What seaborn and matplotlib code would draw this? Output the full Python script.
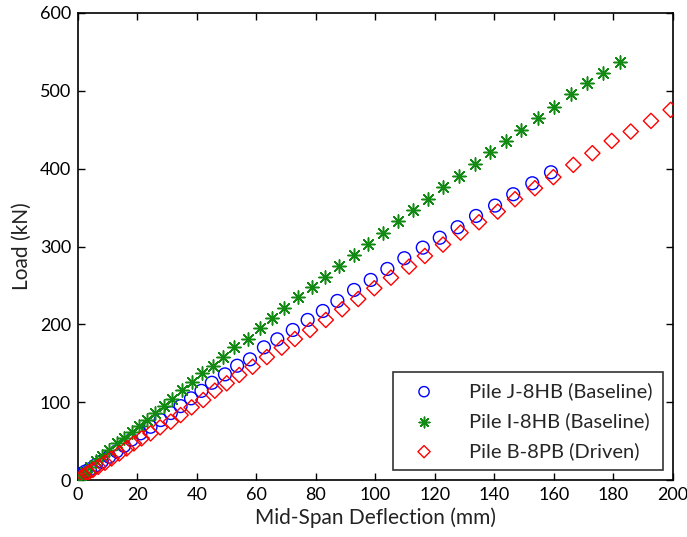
import matplotlib
matplotlib.use("Agg")
import matplotlib.pyplot as plt
import seaborn as sns
import numpy as np
import pandas as pd

# Pile J-8HB (Baseline)
j_x = [0, 1, 2.5, 4, 6, 8, 10.5, 13, 15.5, 18, 21, 24.4, 27.8, 31.2, 34.5, 38, 41.5, 45, 49.4, 53.5, 57.8,
       62.5, 67, 72.2, 77.2, 82.3, 87.2, 92.8, 98.4, 104, 109.7, 115.9, 121.6, 127.6, 133.8, 140.2, 146.3, 152.7, 159]
j_y = [6, 8, 11, 14, 19, 24, 30, 37, 44, 52, 60, 68.5, 77.1, 86.1, 95, 105, 114.6, 125, 135.8, 146.9, 155.1,
       170.5, 180.8, 192.8, 205.7, 217.2, 230.1, 244.2, 257.1, 271.2, 285, 298.6, 311.3, 324.8, 339.3, 352.6, 367.2, 381.3, 395.4]

# Pile I-8HB (Baseline)
i_x = [0, 1, 2.5, 4, 6, 8, 10.5, 13, 15.5, 18, 20.4, 23.2, 26, 28.8, 31.6, 34.9, 38.2, 41.8, 45.3, 48.8, 52.4, 57,
       61.2, 65.3, 69.2, 74.1, 78.6, 83.2, 87.7, 92.8, 97.6, 102.6, 107.7, 112.5, 117.7, 122.8, 128.2, 133.4, 138.5,
       143.9, 148.9, 154.5, 160.1, 165.7, 171.2, 176.6, 182.2]
i_y = [1, 5, 11, 17, 24, 31, 39, 47, 54, 62, 69, 77.1, 86, 95.1, 104.5, 115.7, 126.4, 137.1, 146.9, 158.5, 170.5, 181.5,
       195, 208.6, 221.5, 234.8, 248.5, 261.3, 275.1, 289.2, 303.3, 317.9, 333.3, 347, 361.2, 376.2, 391.1, 405.8, 421.2,
       435.7, 449.9, 464.9, 479.8, 495.7, 509.8, 523.5, 537]

# Pile B-8PB (Driven)
b_x = [0, 1, 2, 3.5, 5, 6.8, 9.1, 11.3, 13.9, 16.4, 18.8, 21.4, 24.4, 27.6, 31.2, 34.5, 38.2, 42.1, 46, 50, 54.2, 58.7,
       63.5, 68.5, 72.9, 78, 83.3, 88.8, 94.2, 99.6, 105.2, 111.3, 116.6, 122.7, 128.6, 134.8, 141.1, 146.9, 153.6,
       159.8, 166.5, 172.9, 179.4, 185.8, 192.6, 199.2]
b_y = [0, 3, 6, 9.5, 13, 17.1, 22.3, 27.8, 34.2, 40.7, 47.1, 53.6, 60, 67.7, 75, 83.5, 93.4, 102.8, 114.8, 124.3, 135, 145.6,
       158, 170.1, 181.2, 192.8, 205.7, 219.4, 232.6, 246.4, 260, 274.2, 287.9, 302.5, 317.9, 331.2, 344.9, 360.8, 374.9,
       389.1, 404.9, 419.9, 435.7, 447.7, 461.4, 475.6]

labels = ["Pile J-8HB (Baseline)", "Pile I-8HB (Baseline)", "Pile B-8PB (Driven)"]
x_ticks = [0, 20, 40, 60, 80, 100, 120, 140, 160, 180, 200]
y_ticks = [0, 100, 200, 300, 400, 500, 600]

sns.set_theme(style="white")
plt.rcParams['font.family'] = ['Lato', 'DejaVu Sans']

fig = plt.figure(figsize=(6.87, 5.37), dpi=100)
ax = fig.add_axes([0.1135, 0.106, 0.8661, 0.8698])

asterisk = (8, 2, 0)
sns.scatterplot(x=j_x, y=j_y, ax=ax, marker='o', s=85, facecolor='none', edgecolor='#0000ff',
                linewidth=1.0, label=labels[0], zorder=3)
sns.scatterplot(x=i_x, y=i_y, ax=ax, marker=asterisk, s=90, color='#138a13', edgecolor='#138a13',
                linewidth=1.1, label=labels[1], zorder=3)
sns.scatterplot(x=b_x, y=b_y, ax=ax, marker='D', s=60, facecolor='none', edgecolor='#ff0000',
                linewidth=1.0, label=labels[2], zorder=3)

ax.set_xlim(0, 200)
ax.set_ylim(0, 600)
ax.set_xticks(x_ticks)
ax.set_yticks(y_ticks)
ax.tick_params(direction='in', length=5, width=1, top=True, right=True, labelsize=13, colors='black',
               bottom=True, left=True, pad=5)
for sp in ax.spines.values():
    sp.set_color('black')
    sp.set_linewidth(1.2)
ax.set_xlabel("Mid-Span Deflection (mm)", fontsize=15, color='#222222', labelpad=3)
ax.set_ylabel("Load (kN)", fontsize=15, color='#222222', labelpad=6)

leg = ax.legend(loc='lower right', fontsize=14.5, frameon=True, fancybox=False, borderpad=0.5,
                handletextpad=1.2, borderaxespad=0.5, markerscale=0.8, labelspacing=0.6,
                handlelength=2.1)
leg.get_frame().set_edgecolor('black')
leg.get_frame().set_linewidth(1.2)
fig.savefig("out.png", dpi=100)
